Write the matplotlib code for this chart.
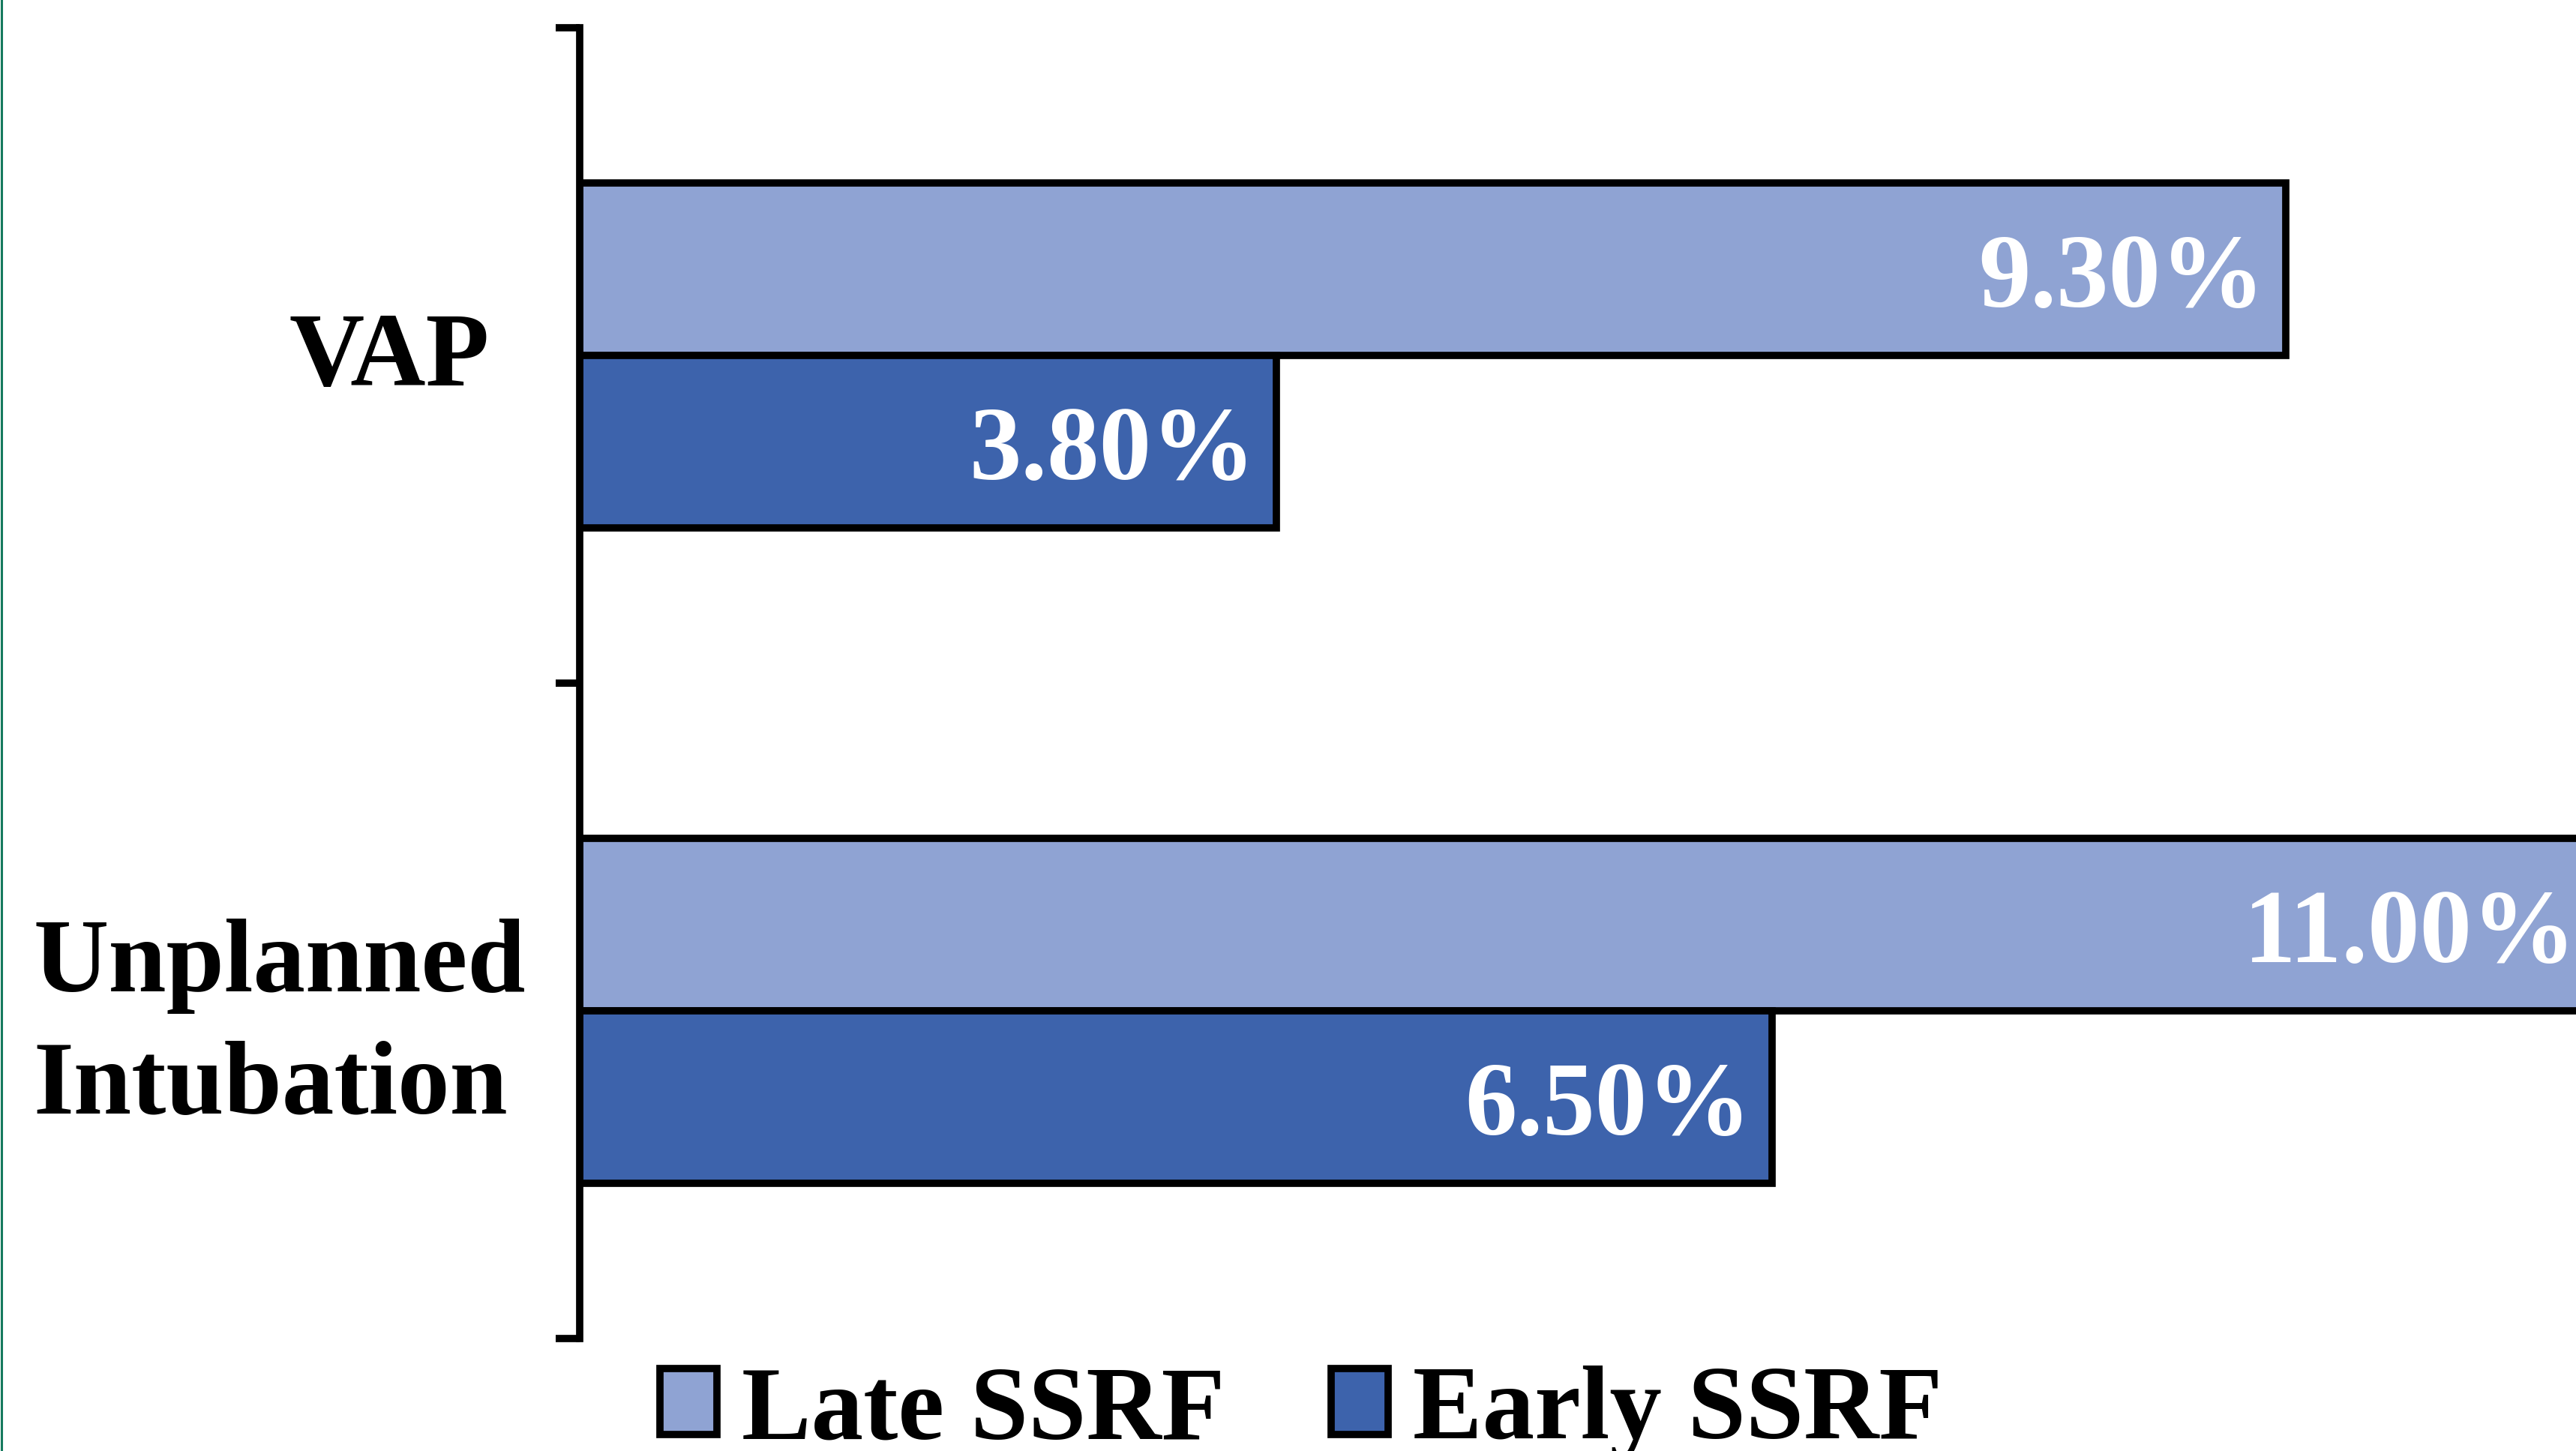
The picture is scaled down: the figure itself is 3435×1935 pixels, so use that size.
import matplotlib
matplotlib.use("Agg")
import matplotlib.pyplot as plt
import numpy as np
from matplotlib.lines import Line2D
from matplotlib.transforms import blended_transform_factory

# complication rates (%) by timing of rib fixation
categories = ["VAP", "Unplanned\nIntubation"]
series_names = ["Late SSRF", "Early SSRF"]
late_ssrf = [9.30, 11.00]
early_ssrf = [3.80, 6.50]
bar_colors = ["#8FA3D3", "#3D63AC"]

plt.rcParams["font.family"] = ["Liberation Serif", "DejaVu Serif"]
plt.rcParams["font.weight"] = "bold"

W, H, DPI = 3435, 1935, 100
FS = 100  # pt, ~139 px at 100 dpi

fig = plt.figure(figsize=(W / DPI, H / DPI), dpi=DPI)
ax = fig.add_axes([773 / W, 1 - 1785 / H, 1 - 773 / W, (1785 - 37) / H])

bar_h = 0.263
y = np.arange(len(categories))
handles = []
for k, (vals, name, col) in enumerate(zip([late_ssrf, early_ssrf], series_names, bar_colors)):
    offs = (k - 0.5) * bar_h
    bars = ax.barh(y + offs, vals, height=bar_h, color=col, edgecolor="black",
                   linewidth=7, label=name)
    handles.append(bars)
    for rect, v in zip(bars, vals):
        ax.annotate(f"{v:.2f}%", xy=(v, rect.get_y() + rect.get_height() / 2),
                    xytext=(-20, -12), textcoords="offset points",
                    ha="right", va="center", color="white", fontsize=FS,
                    annotation_clip=False)

ax.set_xlim(0, (W - 773) / 244.6)
ax.set_ylim(1.5, -0.5)

for s in ["top", "right", "bottom"]:
    ax.spines[s].set_visible(False)
ax.spines["left"].set_linewidth(7)
ax.xaxis.set_visible(False)
ax.set_yticks([-0.5, 0.5, 1.5])
ax.set_yticklabels([])
ax.tick_params(axis="y", direction="out", length=23, width=7)

# category labels, placed by hand like the original slide
trans = blended_transform_factory(fig.transFigure, ax.transData)
ax.text(653 / W, 0.008, categories[0], transform=trans, ha="right", va="center",
        fontsize=FS, color="black")
ax.text(44 / W, 1.025, categories[1], transform=trans, ha="left", va="center",
        multialignment="left", linespacing=1.37, fontsize=FS, color="black")

fig.legend(handles=handles, labels=series_names, loc="lower left",
           bbox_to_anchor=(880 / W, -13 / H), ncol=2, frameon=False,
           fontsize=FS, handlelength=0.55, handleheight=0.6,
           handletextpad=33 / 139, columnspacing=141 / 139,
           borderpad=0, borderaxespad=0)

# thin green rule on the left edge
fig.add_artist(Line2D([1.5 / W, 1.5 / W], [0, 1], transform=fig.transFigure,
                      color="#157a5e", lw=2.2))

fig.savefig("out.png", dpi=DPI, facecolor="white")
